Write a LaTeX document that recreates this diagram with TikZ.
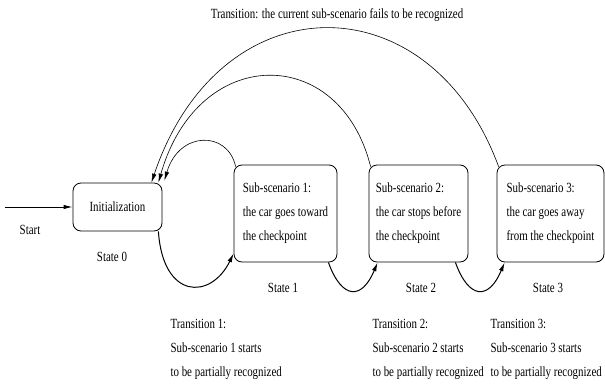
\documentclass[tikz,border=0pt]{standalone}
\usepackage{fontspec}
\setmainfont{Liberation Serif}[FakeStretch=0.78]
\usepackage{tikz}
\usetikzlibrary{calc,arrows.meta}
\tikzset{>={Latex[length=9pt,width=4.5pt]}}

\begin{document}
\begin{tikzpicture}[x=1pt,y=-1pt]
      \tikzstyle{every node}=[font=\fontsize{14}{24}\selectfont]
      \tikzstyle{state}=[draw,rounded corners=8pt,line width=0.8pt,align=left,inner sep=0pt,minimum height=97pt]
      \tikzstyle{back}=[->,line width=0.6pt]
      \tikzstyle{fwd}=[->,line width=1pt]
      \useasboundingbox (0,0) rectangle (605,383);
      %%% States
      \node (init) at (117.5,207) [state,minimum width=89pt,minimum height=48pt] {Initialization};
      \node (s1) at (285.5,213.5) [state,minimum width=103pt] {Sub-scenario 1:\\the car goes toward\\the checkpoint};
      \node (s2) at (418.5,213.5) [state,minimum width=99pt] {Sub-scenario 2:\\the car stops before\\the checkpoint};
      \node (s3) at (550.5,213.5) [state,minimum width=107pt] {Sub-scenario 3:\\the car goes away\\from the checkpoint};
      \node (st0) at (112,257) {State 0};
      \node (st1) at (283,288) {State 1};
      \node (st2) at (421,288) {State 2};
      \node (st3) at (548,288) {State 3};
      %%% Start
      \coordinate (in) at (5,207);
      \node (start) at (30,230) {Start};
      \draw[fwd] (in) -- (init.west);
      %%% Forward transitions
      \draw[fwd] ($(init.south east)+(-4,0)$) .. controls (163,300) and (211,300) .. ($(s1.south west)+(0,-9)$);
      \draw[fwd] ($(s1.south east)+(-9,0)$) .. controls (342,300) and (362,300) .. ($(s2.south west)+(9,0)$);
      \draw[fwd] ($(s2.south east)+(-13,0)$) .. controls (469,300) and (489,300) .. ($(s3.south west)+(8,0)$);
      \node (t1) at (167,349) [anchor=west,align=left] {Transition 1:\\Sub-scenario 1 starts\\to be partially recognized};
      \node (t2) at (369,349) [anchor=west,align=left] {Transition 2:\\Sub-scenario 2 starts\\to be partially recognized};
      \node (t3) at (487,349) [anchor=west,align=left] {Transition 3:\\Sub-scenario 3 starts\\to be partially recognized};
      %%% Back to initialization
      \draw[back] ($(s3.north west)+(2,2)$) .. controls (430,-20) and (220,-20) .. ($(init.north east)+(-11,0)$);
      \draw[back] ($(s2.north west)+(2,2)$) .. controls (340,43.5) and (198,43.5) .. ($(init.north east)+(-4,0)$);
      \draw[back] ($(s1.north west)+(2,2)$) .. controls (228,130.5) and (179,130.5) .. ($(init.north east)+(2,-2)$);
      \node (fail) at (337,15) {Transition: the current sub-scenario fails to be recognized};
\end{tikzpicture}
\end{document}
